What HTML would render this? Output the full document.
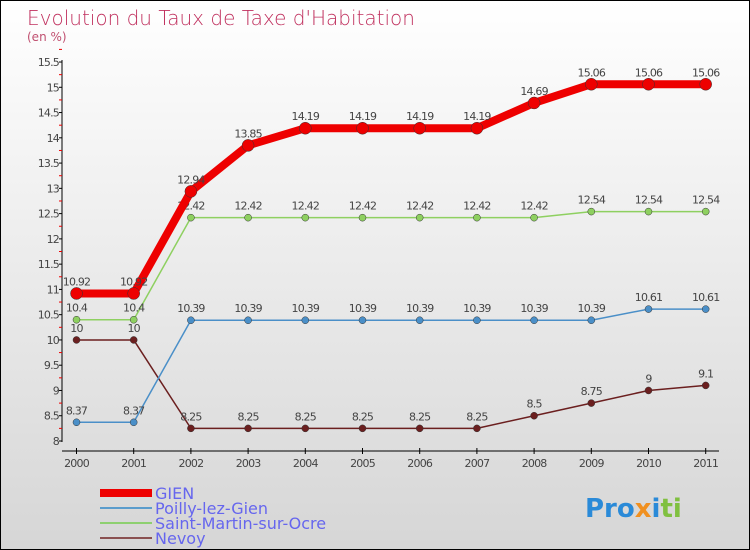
<!DOCTYPE html>
<html><head><meta charset="utf-8"><style>
body{margin:0}
#c{position:relative;width:748px;height:548px;border:1px solid #000;background:linear-gradient(#ffffff,#d6d6d6);font-family:"DejaVu Sans","Liberation Sans",sans-serif;overflow:hidden}
</style></head><body>
<div id="c">
<svg id="s" width="748" height="548" xmlns="http://www.w3.org/2000/svg">
<text x="26" y="24" font-size="20" fill="#c0305e" font-family="DejaVu Sans, sans-serif" font-weight="200">Evolution du Taux de Taxe d'Habitation</text>
<text x="26" y="40" font-size="12" fill="#c05070">(en %)</text>
<g id="axes"></g><g id="series"></g>
<g>
<rect x="99" y="488" width="52" height="8" fill="#ee0000"/>
<text x="154" y="498" font-size="16" fill="#6666ee">GIEN</text>
<line x1="99" x2="151" y1="507" y2="507" stroke="#5a9ccc" stroke-width="2"/>
<text x="154" y="513" font-size="16" fill="#6666ee">Poilly-lez-Gien</text>
<line x1="99" x2="151" y1="522" y2="522" stroke="#8ed070" stroke-width="2"/>
<text x="154" y="528" font-size="16" fill="#6666ee">Saint-Martin-sur-Ocre</text>
<line x1="99" x2="151" y1="537" y2="537" stroke="#8a5050" stroke-width="2"/>
<text x="154" y="543" font-size="16" fill="#6666ee">Nevoy</text>
</g>
<text x="584" y="516" font-size="26" font-weight="bold" font-family="DejaVu Sans, sans-serif"><tspan fill="#2a8ad8">Pro</tspan><tspan fill="#f09020">x</tspan><tspan fill="#2a8ad8">i</tspan><tspan fill="#80c040">ti</tspan></text>
</svg></div>
<script>
const years=[2000,2001,2002,2003,2004,2005,2006,2007,2008,2009,2010,2011];
const gien=[10.92,10.92,12.94,13.85,14.19,14.19,14.19,14.19,14.69,15.06,15.06,15.06];
const poilly=[8.37,8.37,10.39,10.39,10.39,10.39,10.39,10.39,10.39,10.39,10.61,10.61];
const saintMartin=[10.4,10.4,12.42,12.42,12.42,12.42,12.42,12.42,12.42,12.54,12.54,12.54];
const nevoy=[10,10,8.25,8.25,8.25,8.25,8.25,8.25,8.5,8.75,9,9.1];
const yTicks=[8,8.5,9,9.5,10,10.5,11,11.5,12,12.5,13,13.5,14,14.5,15,15.5];
const NS="http://www.w3.org/2000/svg";
const X=i=>75.5+i*57.2, Y=v=>440-(v-8)*50.53;
function mk(t,a,p){const e=document.createElementNS(NS,t);for(const k in a)e.setAttribute(k,a[k]);p.appendChild(e);return e;}
const ax=document.getElementById('axes'), sg=document.getElementById('series');
let yl=mk('line',{x1:61,x2:61,y1:59,y2:441,stroke:'#000'},ax);


let xl=mk('line',{x1:61,x2:718,y1:450,y2:450,stroke:'#000'},ax);


yTicks.forEach(v=>{
 mk('line',{x1:58,x2:61,y1:Y(v),y2:Y(v),stroke:'#000'},ax);
 mk('line',{x1:58,x2:61,y1:Y(v+0.25),y2:Y(v+0.25),stroke:'#e00'},ax);
 const t=mk('text',{x:58,y:Y(v)+4,'font-size':11,fill:'#444','text-anchor':'end','letter-spacing':'-0.8'},ax);
 t.textContent=String(v);
 
 
});
years.forEach((yr,i)=>{
 mk('line',{x1:X(i),x2:X(i),y1:447,y2:453,stroke:'#000'},ax);
 const t=mk('text',{x:X(i),y:466,'font-size':11,fill:'#444','text-anchor':'middle','letter-spacing':'-0.8'},ax);
 t.textContent=String(yr);
 
 
});
function series(vals,color,w,r,name){
 const g=mk('g',{},sg);
 
 
 mk('polyline',{points:vals.map((v,i)=>X(i)+','+Y(v)).join(' '),fill:'none',stroke:color,'stroke-width':w,'stroke-linejoin':'round'},g);
 vals.forEach((v,i)=>{
  const c=mk('circle',{cx:X(i),cy:Y(v),r:r,fill:color,stroke:'#333','stroke-width':0.5},g);
  
  
  const t=mk('text',{x:X(i),y:Y(v)-8,'font-size':11,fill:'#444','text-anchor':'middle','letter-spacing':'-0.8'},g);
  t.textContent=String(v);
  
  
 });
}
series(nevoy,'#6b1f1f',1.5,3.5,'nevoy');
series(poilly,'#4a8fc8',1.5,3.5,'poilly');
series(saintMartin,'#8ed060',1.5,3.5,'saint-martin');
series(gien,'#ee0000',8,6,'gien');
</script>
</body></html>
